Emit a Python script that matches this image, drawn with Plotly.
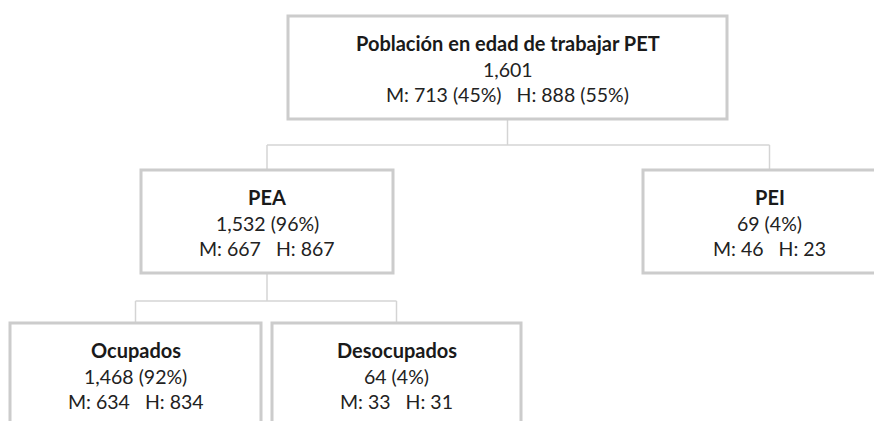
import plotly.graph_objects as go

# datos del arbol
nombres = ['Población en edad de trabajar PET', 'PEA', 'PEI', 'Ocupados', 'Desocupados']
totales = ['1,601', '1,532', '69', '1,468', '64']
porcentajes = ['', '96%', '4%', '92%', '4%']
mujeres = ['713 (45%)', '667', '46', '634', '33']
hombres = ['888 (55%)', '867', '23', '834', '31']
padres = [None, 0, 0, 1, 1]

# posicion de cada caja en pixeles de la ventana (x0, x1, y0, y1)
cajas = [
    (288, 727, 16, 119),
    (141, 393, 170, 273),
    (643, 896, 170, 273),
    (10, 261, 323, 445),
    (272, 521, 323, 445),
]
# altura de la linea horizontal que une a los hijos de cada padre
union_y = {0: 145, 1: 301}

W, H = 882, 421
off = 8  # margen del body de la pagina
borde = '#cccccc'
conector = '#d4d4d4'
fuente = 'Lato'
color_txt = '#1a1a1a'

fig = go.Figure()
shapes = []
annotations = []

for i, (x0, x1, y0, y1) in enumerate(cajas):
    shapes.append(dict(type='rect', x0=x0, x1=x1, y0=y0, y1=y1,
                       line=dict(color=borde, width=3), fillcolor='white', layer='above'))
    cx = (x0 + x1) / 2
    linea2 = totales[i] if porcentajes[i] == '' else '{} ({})'.format(totales[i], porcentajes[i])
    linea3 = 'M: {}\u00a0\u00a0\u00a0H: {}'.format(mujeres[i], hombres[i])
    # titulo en negrita
    annotations.append(dict(x=cx, y=y0 + 27, text='<b>' + nombres[i] + '</b>', showarrow=False,
                            xanchor='center', yanchor='middle',
                            font=dict(family=fuente, size=20, color=color_txt)))
    for k, t in enumerate([linea2, linea3]):
        annotations.append(dict(x=cx, y=y0 + 53 + 25.5 * k, text=t, showarrow=False,
                                xanchor='center', yanchor='middle',
                                font=dict(family=fuente, size=19.5, color='#222222')))

# conectores
for p, yj in union_y.items():
    hijos = [i for i, q in enumerate(padres) if q == p]
    px = (cajas[p][0] + cajas[p][1]) / 2
    shapes.append(dict(type='line', x0=px, x1=px, y0=cajas[p][3], y1=yj,
                       line=dict(color=conector, width=1.5), layer='below'))
    xs = [(cajas[h][0] + cajas[h][1]) / 2 for h in hijos]
    shapes.append(dict(type='line', x0=min(xs), x1=max(xs), y0=yj, y1=yj,
                       line=dict(color=conector, width=1.5), layer='below'))
    for h, hx in zip(hijos, xs):
        shapes.append(dict(type='line', x0=hx, x1=hx, y0=yj, y1=cajas[h][2],
                           line=dict(color=conector, width=1.5), layer='below'))

fig.update_layout(
    width=W, height=H,
    margin=dict(l=0, r=0, t=0, b=0),
    paper_bgcolor='white', plot_bgcolor='white',
    xaxis=dict(range=[off, W + off], visible=False, fixedrange=True),
    yaxis=dict(range=[H + off, off], visible=False, fixedrange=True),
    shapes=shapes, annotations=annotations,
    showlegend=False,
)

fig.write_html('out.html')
